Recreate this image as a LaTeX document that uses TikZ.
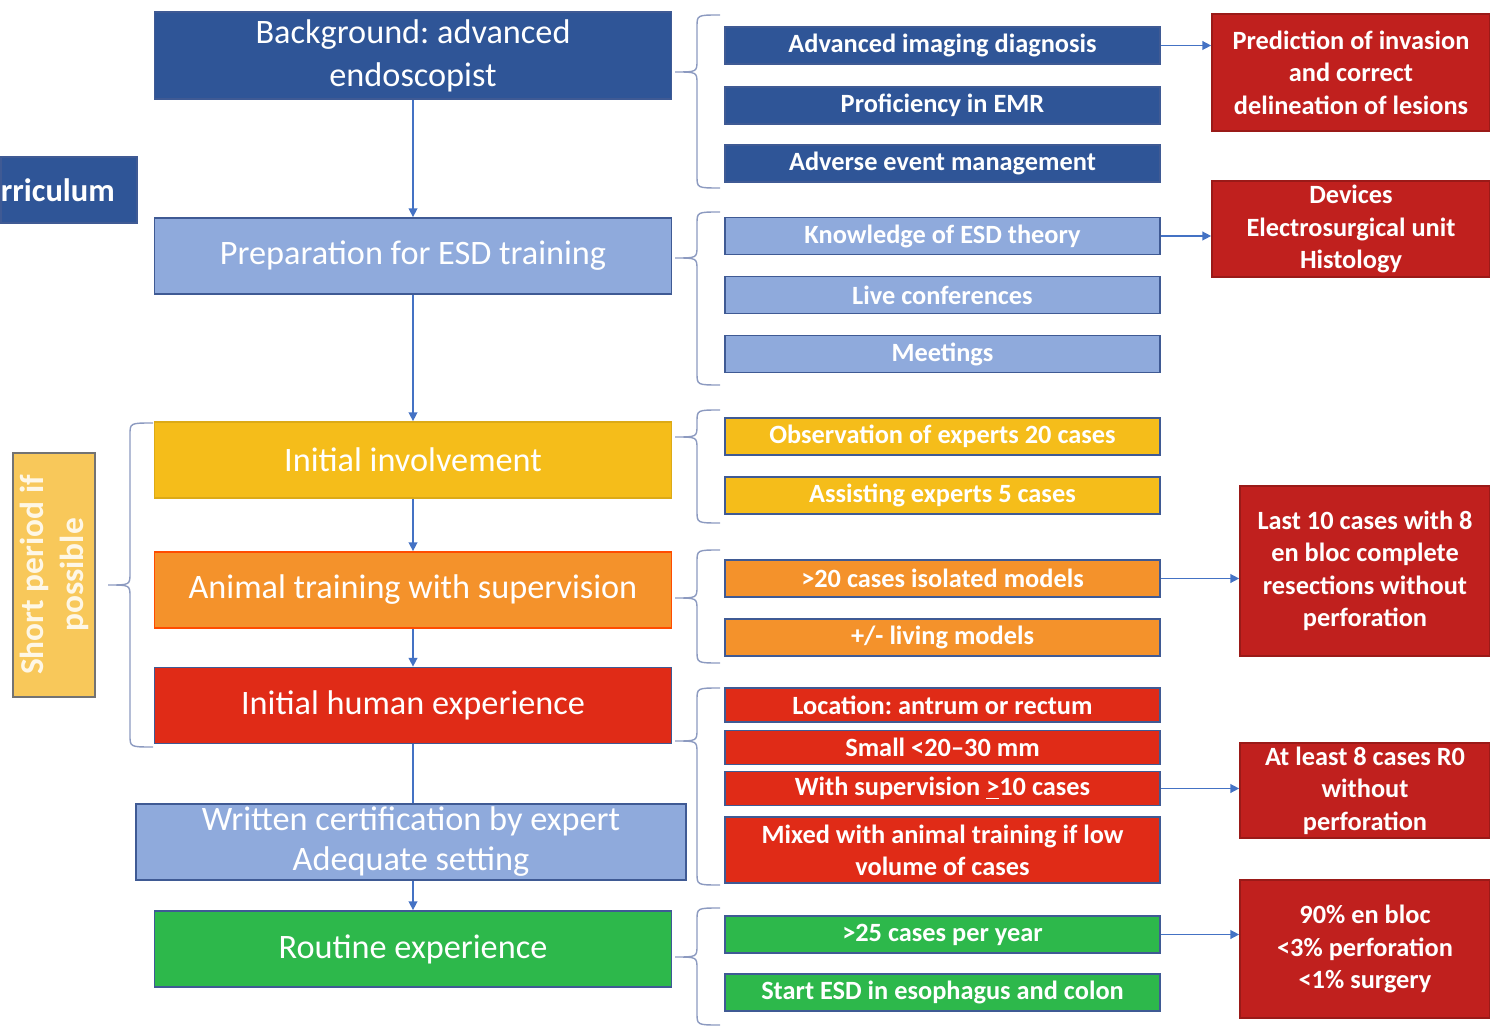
\documentclass[tikz,border=0pt]{standalone}
\usepackage{fontspec}
\setmainfont{Carlito}
\usepackage{tikz}
\usetikzlibrary{arrows.meta}
\frenchspacing
\definecolor{dkblue}{HTML}{2F5597}
\definecolor{ltblue}{HTML}{8FAADC}
\definecolor{gold}{HTML}{F5BD1A}
\definecolor{paleold}{HTML}{F8C85A}
\definecolor{orng}{HTML}{F4922B}
\definecolor{redm}{HTML}{E02B17}
\definecolor{grn}{HTML}{2DB84B}
\definecolor{dkred}{HTML}{C0201E}
\definecolor{edge}{HTML}{3F5A94}
\definecolor{brcol}{HTML}{8C9AC0}
\definecolor{arrcol}{HTML}{4472C4}
% side brace: tip x, top y, tip y, bottom y
\newcommand{\grpbrace}[4]{%
  \draw[brc] ({#1+45},#2) .. controls ({#1+22},#2) .. ({#1+22},{#2+12}) -- ({#1+22},{#3-12})
    .. controls ({#1+22},#3) .. (#1,#3) .. controls ({#1+22},#3) .. ({#1+22},{#3+12})
    -- ({#1+22},{#4-12}) .. controls ({#1+22},#4) .. ({#1+45},#4);}

\begin{document}
\begin{tikzpicture}[x=0.02cm,y=-0.02cm,
    mainbox/.style={draw=edge,line width=1pt,text=white,align=center,inner sep=0pt,
      minimum width=10.34cm,minimum height=1.52cm,font=\fontsize{19.5}{24.5}\selectfont},
    subbox/.style={draw=edge,line width=1pt,text=white,align=center,inner sep=0pt,
      minimum width=8.7cm,minimum height=0.74cm,font=\bfseries\fontsize{15}{18}\selectfont},
    goalbox/.style={draw=dkred!80!black,line width=1pt,fill=dkred,text=white,align=center,
      inner sep=0pt,font=\bfseries\fontsize{15}{18.5}\selectfont},
    flow/.style={draw=arrcol,line width=0.8pt,-{Triangle[width=5pt,length=5pt]}},
    link/.style={draw=arrcol,line width=0.8pt},
    brc/.style={draw=brcol,line width=0.8pt}]
\useasboundingbox (0,0) rectangle (1490,1033);

% left column
\node[mainbox,fill=dkblue,minimum height=1.74cm] (bg) at (413,55.5) {Background: advanced\\endoscopist};
\node[mainbox,fill=ltblue] (prep) at (413,256) {Preparation for ESD training};
\node[mainbox,fill=gold,draw=gold!90!black] (inv) at (413,460) {Initial involvement};
\node[mainbox,fill=orng,draw=orange!60!red] (anim) at (413,590) {Animal training with supervision};
\node[mainbox,fill=redm] (hum) at (413,705.5) {Initial human experience};
\node[mainbox,fill=ltblue,minimum width=11cm,font=\fontsize{19.5}{22.8}\selectfont] (cert) at (411,842) {Written certification by expert\\Adequate setting};
\node[mainbox,fill=grn] (rout) at (413,949) {Routine experience};

\node[draw=edge,line width=1pt,fill=dkblue,text=white,inner sep=0pt,anchor=west,
  text width=2.72cm,minimum height=1.32cm,align=left,font=\bfseries\fontsize{18.5}{22}\selectfont] (curr) at (0,190) {rriculum};
\node[draw=black!55,line width=1pt,fill=paleold,text=white!85!paleold,rotate=90,inner sep=0pt,
  minimum width=4.88cm,minimum height=1.64cm,align=center,font=\bfseries\fontsize{19}{22.8}\selectfont] (short) at (54,575) {Short period if\\possible};

\draw[flow] (bg) -- (prep);
\draw[flow] (prep) -- (inv);
\draw[flow] (inv) -- (anim);
\draw[flow] (anim) -- (hum);
\draw[link] (hum) -- (hum |- cert.north);
\draw[flow] (cert.south -| rout) -- (rout);

% details
\node[subbox,fill=dkblue] (img) at (942.5,45.5) {Advanced imaging diagnosis};
\node[subbox,fill=dkblue] (emr) at (942.5,105.5) {Proficiency in EMR};
\node[subbox,fill=dkblue] (adv) at (942.5,163.5) {Adverse event management};
\node[subbox,fill=ltblue] (know) at (942.5,236) {Knowledge of ESD theory};
\node[subbox,fill=ltblue] (live) at (942.5,295) {Live conferences};
\node[subbox,fill=ltblue] (meet) at (942.5,354) {Meetings};
\node[subbox,fill=gold] (obs) at (942.5,436.5) {Observation of experts 20 cases};
\node[subbox,fill=gold] (asst) at (942.5,495.5) {Assisting experts 5 cases};
\node[subbox,fill=orng] (iso) at (942.5,578.5) {>20 cases isolated models};
\node[subbox,fill=orng] (livm) at (942.5,637.5) {+/- living models};
\node[subbox,fill=redm,minimum height=0.68cm] (loc) at (942.5,705) {Location: antrum or rectum};
\node[subbox,fill=redm,minimum height=0.68cm] (small) at (942.5,747.5) {Small <20–30 mm};
\node[subbox,fill=redm,minimum height=0.68cm] (sup) at (942.5,788.5) {With supervision \underline{>}10 cases};
\node[subbox,fill=redm,minimum height=1.32cm,font=\bfseries\fontsize{15}{18.2}\selectfont] (mix) at (942.5,850) {Mixed with animal training if low\\volume of cases};
\node[subbox,fill=grn] (yr) at (942.5,934.5) {>25 cases per year};
\node[subbox,fill=grn] (eso) at (942.5,992.5) {Start ESD in esophagus and colon};

\grpbrace{675}{15}{72}{188}
\grpbrace{675}{212}{258}{385}
\grpbrace{675}{410}{437}{523}
\grpbrace{675}{550}{598}{663}
\grpbrace{675}{688}{741}{885}
\grpbrace{675}{908}{957}{1025}
\grpbrace{108}{423}{585}{747}

% outcomes
\node[goalbox,minimum width=5.56cm,minimum height=2.34cm] (pred) at (1351,72.5) {Prediction of invasion\\and correct\\delineation of lesions};
\node[goalbox,minimum width=5.56cm,minimum height=1.92cm] (dev) at (1351,229) {Devices\\Electrosurgical unit\\Histology};
\node[goalbox,minimum width=5cm,minimum height=3.4cm] (last) at (1365,571) {Last 10 cases with 8\\en bloc complete\\resections without\\perforation};
\node[goalbox,minimum width=5cm,minimum height=1.9cm] (rzero) at (1365,790.5) {At least 8 cases R0\\without\\perforation};
\node[goalbox,minimum width=5cm,minimum height=2.76cm] (rate) at (1365,949) {90\% en bloc\\<3\% perforation\\<1\% surgery};

\draw[flow] (img.east) -- (img.east -| pred.west);
\draw[flow] (know.east) -- (know.east -| dev.west);
\draw[flow] (iso.east) -- (iso.east -| last.west);
\draw[flow] (sup.east) -- (sup.east -| rzero.west);
\draw[flow] (yr.east) -- (yr.east -| rate.west);
\end{tikzpicture}
\end{document}
